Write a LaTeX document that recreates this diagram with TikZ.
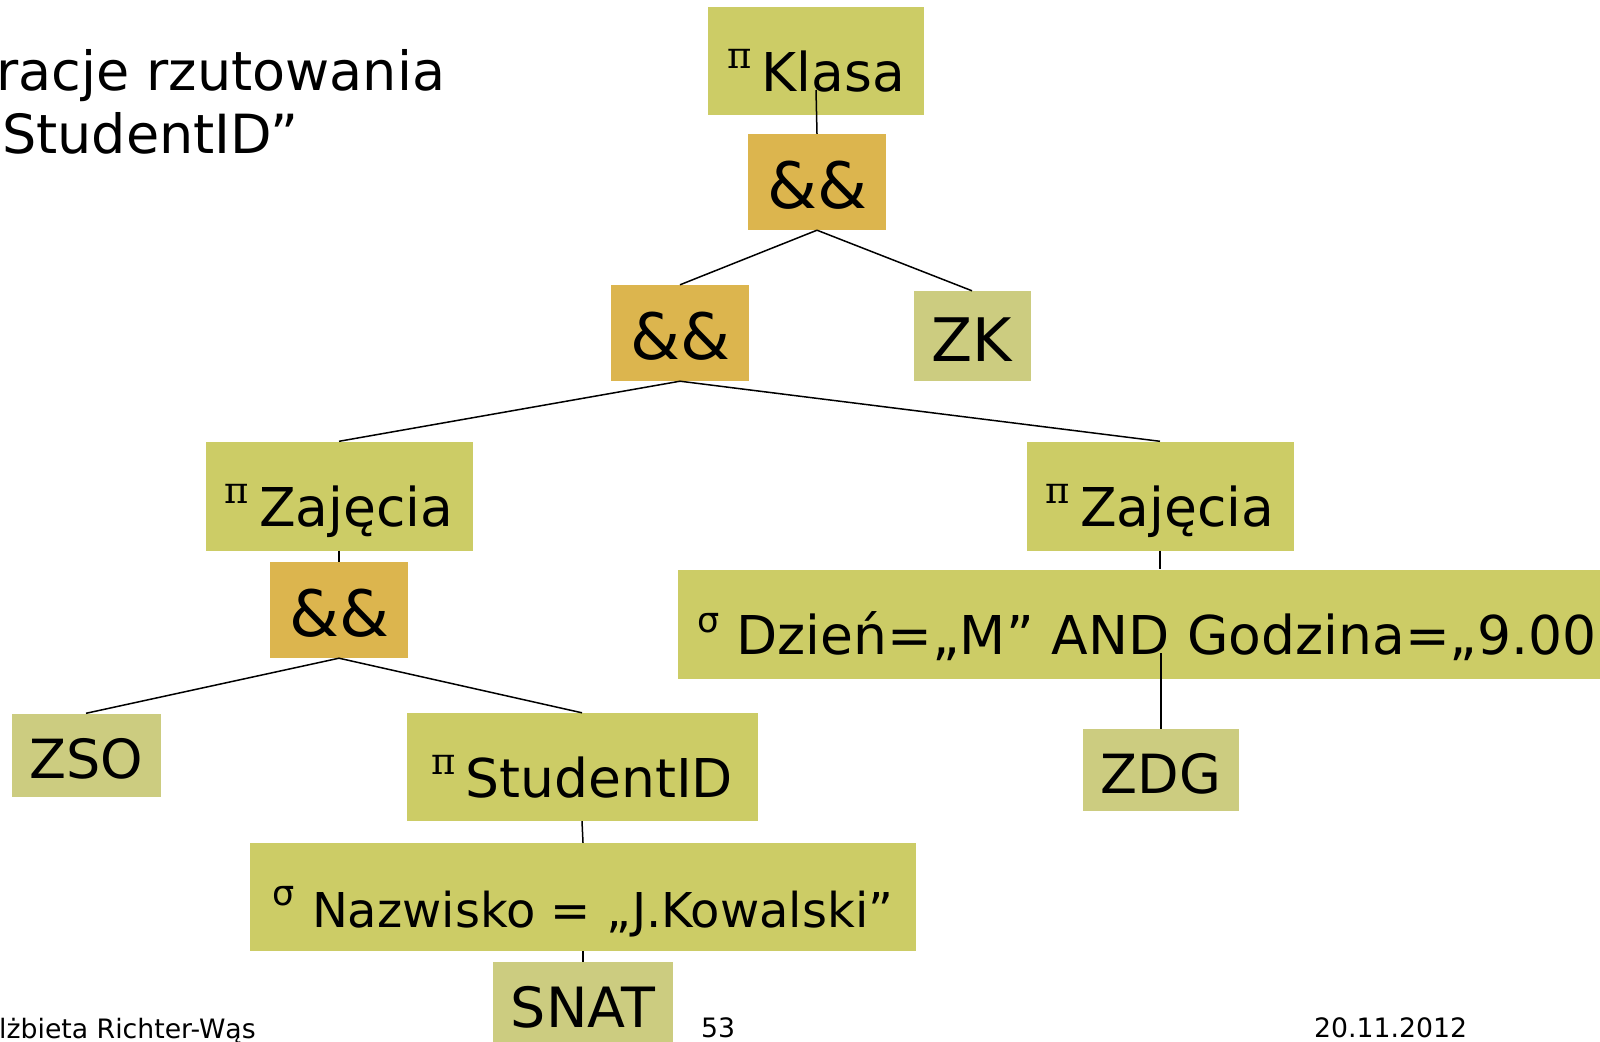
\documentclass[tikz,border=0pt]{standalone}
\usepackage{fontspec}
\setmainfont{DejaVu Sans}
\newfontfamily\greekfont{DejaVu Serif}
\usetikzlibrary{calc}
\definecolor{opgreen}{RGB}{204,204,102}
\definecolor{leafgreen}{RGB}{204,204,128}
\definecolor{joinorange}{RGB}{220,181,78}
\newcommand{\projmark}{\raisebox{23pt}{\fontsize{37}{37}\selectfont\greekfont π}\hspace{10pt}}
\newcommand{\selmark}{\raisebox{22pt}{\fontsize{35}{35}\selectfont σ}\hspace{17pt}}

\begin{document}
\begin{tikzpicture}[x=1pt,y=-1pt,
	opbox/.style={fill=opgreen, inner sep=0pt, font=\fontsize{53.5}{60}\selectfont, text height=60pt, text depth=0pt},
	joinbox/.style={fill=joinorange, inner sep=0pt, minimum width=138pt, minimum height=96pt, font=\fontsize{64}{70}\selectfont, text height=52pt, text depth=0pt},
	leafbox/.style={fill=leafgreen, inner sep=0pt, font=\fontsize{54}{60}\selectfont, text height=46pt, text depth=0pt},
	plain/.style={anchor=base west, inner sep=0pt},
	link/.style={line width=1.5pt}]

	\useasboundingbox (0,0) rectangle (1600,1041);

	\node[plain, font=\fontsize{54}{63}\selectfont] (title1) at (-4,90) {racje rzutowania};
	\node[plain, font=\fontsize{54}{63}\selectfont] (title2) at (2,153) {StudentID”};

	\node[opbox, minimum width=216pt, minimum height=108pt] (klasa) at (816,61) {\projmark Klasa};
	\node[joinbox] (and1) at (817,182) {\&\&};
	\node[joinbox] (and2) at (680,333) {\&\&};
	\node[leafbox, minimum width=117pt, minimum height=90pt, font=\fontsize{60}{66}\selectfont, text height=50pt] (zk) at (972,336) {ZK};

	\node[opbox, minimum width=267pt, minimum height=109pt] (zajL) at (339,496) {\projmark Zajęcia};
	\node[opbox, minimum width=267pt, minimum height=109pt] (zajR) at (1160,496) {\projmark Zajęcia};
	\node[joinbox] (and3) at (339,610) {\&\&};
	\node[opbox, anchor=west, inner xsep=19pt, text width=924pt, align=left, minimum height=109pt] (sigD) at (678,624) {\selmark Dzień=„M” AND Godzina=„9.00};

	\node[leafbox, minimum width=149pt, minimum height=83pt] (zso) at (86,755) {ZSO};
	\node[opbox, minimum width=351pt, minimum height=108pt] (stud) at (582,767) {\projmark StudentID\hspace{10pt}};
	\node[leafbox, minimum width=156pt, minimum height=82pt] (zdg) at (1161,770) {ZDG};
	\node[opbox, minimum width=666pt, minimum height=108pt, font=\fontsize{48}{56}\selectfont] (naz) at (583,897) {\selmark Nazwisko = „J.Kowalski”};
	\node[leafbox, minimum width=180pt, minimum height=88pt, text height=42pt, font=\fontsize{55.5}{60}\selectfont] (snat) at (583,1006) {SNAT};

	\node[plain, font=\fontsize{26.7}{30}\selectfont] (author) at (-1,1038) {lżbieta Richter-Wąs};
	\node[plain, font=\fontsize{26.7}{30}\selectfont] (page) at (701,1037) {53};
	\node[plain, font=\fontsize{26.7}{30}\selectfont] (date) at (1314,1037) {20.11.2012};

	\draw[link] ($(klasa.center)+(0,29)$) -- (and1.north);
	\draw[link] (and1.south) -- (and2.north);
	\draw[link] (and1.south) -- (zk.north);
	\draw[link] (and2.south) -- (zajL.north);
	\draw[link] (and2.south) -- (zajR.north);
	\draw[link] (zajL.south) -- (and3.north);
	\draw[link] (and3.south) -- (zso.north);
	\draw[link] (and3.south) -- (stud.north);
	\draw[link] (stud.south) -- (naz.north);
	\draw[link] (naz.south) -- (snat.north);
	\draw[link] (zajR.south) -- (zajR.south |- sigD.north);
	\draw[link] ($(zdg.north |- sigD.center)+(0,29)$) -- (zdg.north);

\end{tikzpicture}
\end{document}
